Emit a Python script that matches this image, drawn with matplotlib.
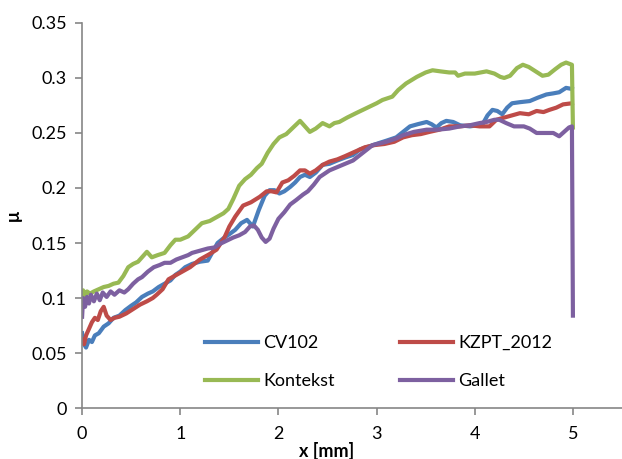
import matplotlib
matplotlib.use("Agg")
import matplotlib.pyplot as plt

plt.rcParams['font.family'] = ['Lato', 'DejaVu Sans']

# friction coefficient traces
cv102_x = [0, 0.02, 0.04, 0.07, 0.1, 0.13, 0.17, 0.22, 0.27, 0.32, 0.38, 0.44, 0.5, 0.55, 0.61,
           0.67, 0.72, 0.78, 0.84, 0.9, 0.95, 1.0, 1.05, 1.12, 1.2, 1.28, 1.33, 1.38, 1.45, 1.5,
           1.56, 1.62, 1.68, 1.74, 1.8, 1.86, 1.91, 1.96, 2.01, 2.06, 2.12, 2.17, 2.22, 2.27,
           2.32, 2.38, 2.45, 2.52, 2.6, 2.69, 2.76, 2.83, 2.93, 3.03, 3.1, 3.2, 3.27, 3.34,
           3.42, 3.51, 3.56, 3.61, 3.66, 3.71, 3.78, 3.85, 3.95, 4.03, 4.08, 4.13, 4.18, 4.23,
           4.28, 4.33, 4.38, 4.46, 4.56, 4.64, 4.73, 4.8, 4.86, 4.93, 4.99]
cv102_y = [0.068, 0.058, 0.055, 0.062, 0.06, 0.066, 0.068, 0.074, 0.077, 0.082, 0.084, 0.089,
           0.093, 0.096, 0.101, 0.104, 0.106, 0.11, 0.113, 0.116, 0.121, 0.124, 0.128, 0.131,
           0.133, 0.134, 0.142, 0.15, 0.155, 0.158, 0.162, 0.168, 0.171, 0.165, 0.18, 0.193,
           0.198, 0.198, 0.195, 0.197, 0.201, 0.205, 0.21, 0.212, 0.21, 0.214, 0.221, 0.222,
           0.225, 0.228, 0.23, 0.235, 0.238, 0.241, 0.243, 0.246, 0.251, 0.256, 0.258, 0.26,
           0.258, 0.255, 0.259, 0.261, 0.26, 0.257, 0.256, 0.257, 0.258, 0.266, 0.271, 0.27,
           0.267, 0.273, 0.277, 0.278, 0.279, 0.282, 0.285, 0.286, 0.287, 0.291, 0.29]

kzpt_x = [0, 0.02, 0.04, 0.07, 0.1, 0.13, 0.16, 0.19, 0.22, 0.25, 0.29, 0.33, 0.38, 0.45,
          0.52, 0.59, 0.66, 0.72, 0.76, 0.82, 0.88, 0.94, 1.0, 1.1, 1.2, 1.3, 1.37, 1.45, 1.5,
          1.56, 1.64, 1.72, 1.81, 1.88, 1.93, 1.98, 2.04, 2.1, 2.16, 2.22, 2.27, 2.32, 2.38,
          2.45, 2.52, 2.6, 2.68, 2.78, 2.88, 2.98, 3.08, 3.18, 3.27, 3.36, 3.45, 3.54, 3.64,
          3.74, 3.85, 3.95, 4.05, 4.15, 4.22, 4.3, 4.38, 4.46, 4.55, 4.63, 4.7, 4.76, 4.83,
          4.9, 4.99]
kzpt_y = [0.062, 0.058, 0.066, 0.072, 0.078, 0.082, 0.08, 0.088, 0.092, 0.084, 0.08, 0.082,
          0.083, 0.086, 0.09, 0.094, 0.097, 0.1, 0.103, 0.108, 0.117, 0.12, 0.123, 0.128,
          0.135, 0.14, 0.144, 0.155, 0.165, 0.174, 0.184, 0.187, 0.192, 0.197, 0.197, 0.196,
          0.205, 0.207, 0.211, 0.216, 0.216, 0.213, 0.216, 0.221, 0.224, 0.226, 0.229, 0.233,
          0.237, 0.239, 0.24, 0.242, 0.246, 0.248, 0.249, 0.251, 0.253, 0.256, 0.256, 0.257,
          0.256, 0.256, 0.262, 0.264, 0.266, 0.268, 0.267, 0.27, 0.269, 0.271, 0.273, 0.276,
          0.277]

kontekst_x = [0, 0.01, 0.03, 0.05, 0.08, 0.12, 0.17, 0.22, 0.27, 0.32, 0.37, 0.42, 0.47, 0.52,
              0.57, 0.62, 0.66, 0.71, 0.77, 0.84, 0.9, 0.95, 1.0, 1.08, 1.15, 1.22, 1.3, 1.38,
              1.44, 1.49, 1.54, 1.6, 1.66, 1.72, 1.78, 1.83, 1.89, 1.95, 2.01, 2.08, 2.15, 2.22,
              2.27, 2.32, 2.38, 2.45, 2.52, 2.57, 2.62, 2.7, 2.79, 2.86, 2.93, 3.0, 3.06, 3.16,
              3.22, 3.3, 3.41, 3.5, 3.57, 3.65, 3.74, 3.8, 3.83, 3.9, 4.0, 4.06, 4.12, 4.2, 4.26,
              4.3, 4.36, 4.43, 4.49, 4.55, 4.62, 4.69, 4.75, 4.82, 4.88, 4.93, 4.99, 5.0]
kontekst_y = [0.095, 0.107, 0.1, 0.106, 0.104, 0.106, 0.108, 0.11, 0.111, 0.113, 0.114, 0.12,
              0.128, 0.131, 0.133, 0.138, 0.142, 0.137, 0.139, 0.141, 0.148, 0.153, 0.153,
              0.156, 0.162, 0.168, 0.17, 0.174, 0.177, 0.181, 0.19, 0.202, 0.208, 0.212, 0.218,
              0.222, 0.232, 0.24, 0.246, 0.249, 0.255, 0.261, 0.256, 0.251, 0.254, 0.259, 0.256,
              0.259, 0.26, 0.264, 0.268, 0.271, 0.274, 0.277, 0.28, 0.283, 0.289, 0.295, 0.301,
              0.305, 0.307, 0.306, 0.305, 0.305, 0.302, 0.304, 0.304, 0.305, 0.306, 0.304, 0.301,
              0.3, 0.302, 0.309, 0.312, 0.31, 0.306, 0.302, 0.303, 0.308, 0.312, 0.314, 0.312,
              0.255]

gallet_x = [0, 0.01, 0.03, 0.05, 0.07, 0.09, 0.12, 0.15, 0.18, 0.21, 0.25, 0.29, 0.33, 0.38,
            0.43, 0.47, 0.52, 0.57, 0.61, 0.67, 0.73, 0.79, 0.84, 0.9, 0.96, 1.02, 1.08, 1.12,
            1.2, 1.28, 1.35, 1.4, 1.47, 1.54, 1.6, 1.66, 1.71, 1.75, 1.79, 1.83, 1.87, 1.91,
            1.95, 2.0, 2.06, 2.12, 2.18, 2.25, 2.3, 2.36, 2.42, 2.52, 2.6, 2.68, 2.76, 2.86,
            2.96, 3.1, 3.2, 3.27, 3.38, 3.51, 3.62, 3.74, 3.85, 3.95, 4.05, 4.12, 4.2, 4.25,
            4.32, 4.4, 4.5, 4.56, 4.63, 4.73, 4.8, 4.86, 4.91, 4.96, 4.99, 5.0]
gallet_y = [0.083, 0.1, 0.092, 0.101, 0.095, 0.103, 0.097, 0.104, 0.098, 0.105, 0.101, 0.106,
            0.103, 0.107, 0.105, 0.108, 0.113, 0.117, 0.119, 0.124, 0.128, 0.13, 0.132, 0.132,
            0.135, 0.137, 0.139, 0.141, 0.143, 0.145, 0.146, 0.149, 0.152, 0.155, 0.157, 0.16,
            0.165, 0.166, 0.162, 0.155, 0.151, 0.154, 0.163, 0.172, 0.178, 0.185, 0.189, 0.194,
            0.197, 0.203, 0.21, 0.216, 0.219, 0.222, 0.225, 0.232, 0.239, 0.242, 0.245, 0.248,
            0.251, 0.253, 0.253, 0.254, 0.256, 0.257, 0.259, 0.26, 0.262, 0.262, 0.259, 0.256,
            0.256, 0.254, 0.25, 0.25, 0.25, 0.247, 0.251, 0.255, 0.256, 0.084]

fig = plt.figure(figsize=(6.22, 4.59), dpi=100)
ax = fig.add_axes([0.132, 0.111, 0.868, 0.839])

lw = 3.0
l1, = ax.plot(cv102_x, cv102_y, color='#4A7EBB', linewidth=lw, label='CV102')
l2, = ax.plot(kzpt_x, kzpt_y, color='#BE4B48', linewidth=lw, label='KZPT_2012')
l3, = ax.plot(kontekst_x, kontekst_y, color='#98B954', linewidth=lw, label='Kontekst')
l4, = ax.plot(gallet_x, gallet_y, color='#7D60A0', linewidth=lw, label='Gallet')

ax.set_xlim(0, 5.5)
ax.set_ylim(0, 0.35)
ax.set_xticks([0, 1, 2, 3, 4, 5])
ax.set_yticks([0, 0.05, 0.1, 0.15, 0.2, 0.25, 0.3, 0.35])
ax.set_yticklabels(['0', '0.05', '0.1', '0.15', '0.2', '0.25', '0.3', '0.35'])

for side in ['top', 'right']:
    ax.spines[side].set_visible(False)
for side in ['left', 'bottom']:
    ax.spines[side].set_color('#868686')
    ax.spines[side].set_linewidth(1.2)
ax.tick_params(colors='#868686', labelcolor='black', labelsize=13, length=5, width=1.2)
ax.tick_params(axis='x', pad=8)
ax.tick_params(axis='y', pad=6)

ax.set_xlabel('x [mm]', fontsize=13, fontweight='bold')
ax.xaxis.set_label_coords(0.452, -0.088)
ax.xaxis.label.set_va('top')
ax.set_ylabel('μ', fontsize=13, fontweight='bold')
ax.yaxis.set_label_coords(-0.112, 0.5)

# row-wise order like the original: CV102, KZPT_2012 / Kontekst, Gallet
ax.legend([l1, l3, l2, l4], ['CV102', 'Kontekst', 'KZPT_2012', 'Gallet'],
          loc='upper left', bbox_to_anchor=(0.228, 0.19), ncol=2, frameon=False,
          fontsize=13, handlelength=2.9, handletextpad=0.3, columnspacing=3.65,
          labelspacing=1.25, borderpad=0, borderaxespad=0)

plt.savefig('out.png', dpi=100)
